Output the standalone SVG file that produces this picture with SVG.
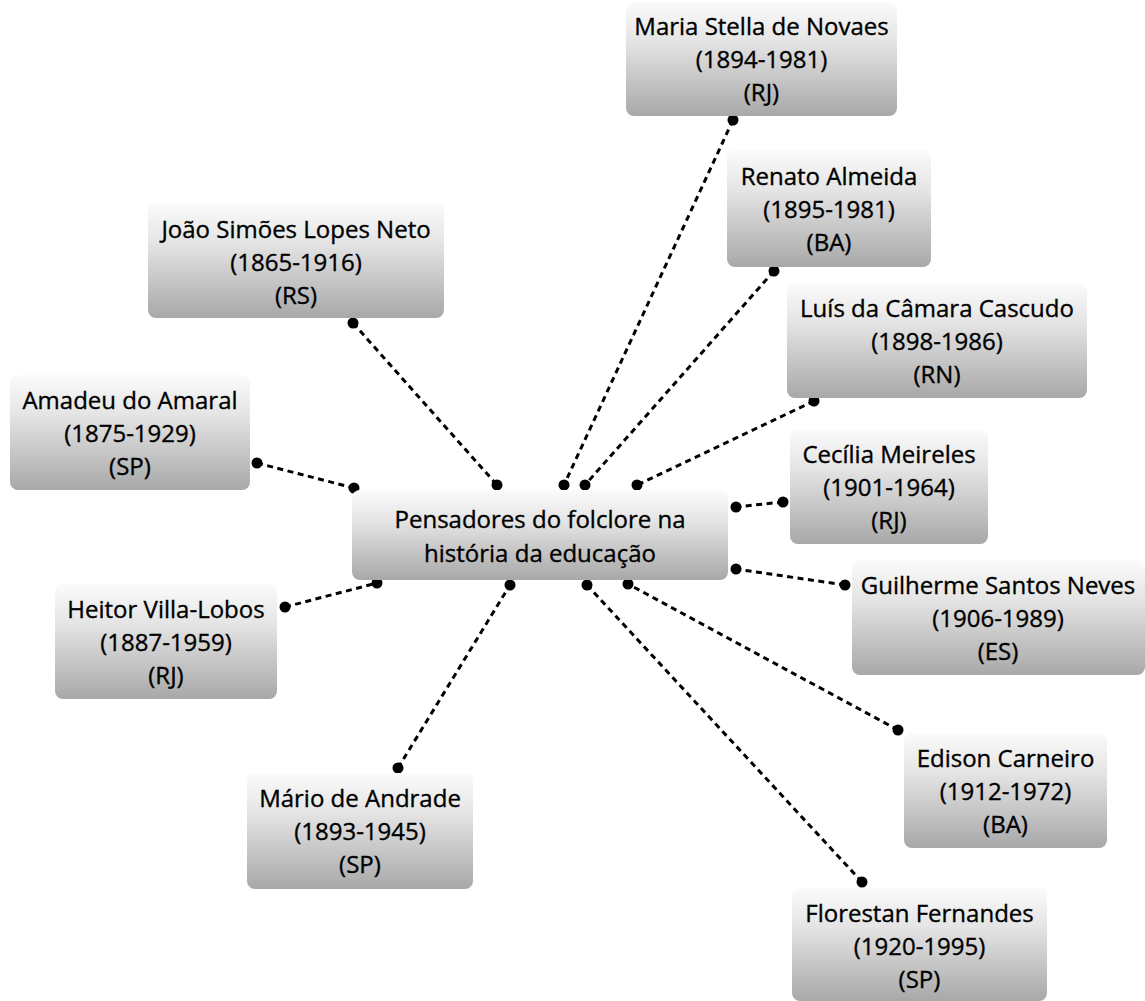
<svg xmlns="http://www.w3.org/2000/svg" width="1145" height="1001" viewBox="0 0 1145 1001">
<defs>
<linearGradient id="g" x1="0" y1="0" x2="0" y2="1">
<stop offset="0" stop-color="#fbfbfb"/>
<stop offset="0.35" stop-color="#e4e4e4"/>
<stop offset="1" stop-color="#a8a8a8"/>
</linearGradient>
<style>
.box{fill:url(#g);}
.t{font-family:"Open Sans","Noto Sans",sans-serif;font-size:24px;fill:#000;stroke:#000;stroke-width:0.35;text-anchor:middle;}
.c line{stroke:#000;stroke-width:3;stroke-dasharray:6 4.5;fill:none;}
.c circle{fill:#000;}
</style>
</defs>
<rect width="1145" height="1001" fill="#fff"/>
<g id="connectors" class="c">
<line x1="353" y1="323" x2="497" y2="485"/>
<line x1="733" y1="120" x2="564" y2="485"/>
<line x1="774" y1="271" x2="585" y2="485"/>
<line x1="814" y1="401" x2="637" y2="485"/>
<line x1="257" y1="463" x2="354" y2="488"/>
<line x1="783" y1="502" x2="736" y2="507"/>
<line x1="845" y1="585" x2="736" y2="569"/>
<line x1="285" y1="607" x2="377" y2="583"/>
<line x1="398" y1="768" x2="510" y2="585"/>
<line x1="862" y1="882" x2="587" y2="585"/>
<line x1="898" y1="730" x2="628" y2="584"/>
<circle cx="353" cy="323" r="5.5"/><circle cx="497" cy="485" r="5.5"/>
<circle cx="733" cy="120" r="5.5"/><circle cx="564" cy="485" r="5.5"/>
<circle cx="774" cy="271" r="5.5"/><circle cx="585" cy="485" r="5.5"/>
<circle cx="814" cy="401" r="5.5"/><circle cx="637" cy="485" r="5.5"/>
<circle cx="257" cy="463" r="5.5"/><circle cx="354" cy="488" r="5.5"/>
<circle cx="783" cy="502" r="5.5"/><circle cx="736" cy="507" r="5.5"/>
<circle cx="845" cy="585" r="5.5"/><circle cx="736" cy="569" r="5.5"/>
<circle cx="285" cy="607" r="5.5"/><circle cx="377" cy="583" r="5.5"/>
<circle cx="398" cy="768" r="5.5"/><circle cx="510" cy="585" r="5.5"/>
<circle cx="862" cy="882" r="5.5"/><circle cx="587" cy="585" r="5.5"/>
<circle cx="898" cy="730" r="5.5"/><circle cx="628" cy="584" r="5.5"/>
</g>
<g id="center">
<rect class="box" x="352" y="490" width="376" height="90" rx="8"/>
<text class="t" x="540" y="528">Pensadores do folclore na</text>
<text class="t" x="540" y="562">história da educação</text>
</g>
<g id="maria">
<rect class="box" x="626" y="2" width="271" height="114" rx="8"/>
<text class="t" x="761.5" y="35">Maria Stella de Novaes</text>
<text class="t" x="761.5" y="68">(1894-1981)</text>
<text class="t" x="761.5" y="101">(RJ)</text>
</g>
<g id="renato">
<rect class="box" x="727" y="150" width="204" height="117" rx="8"/>
<text class="t" x="829" y="185">Renato Almeida</text>
<text class="t" x="829" y="218">(1895-1981)</text>
<text class="t" x="829" y="251">(BA)</text>
</g>
<g id="joao">
<rect class="box" x="148" y="203" width="296" height="115" rx="8"/>
<text class="t" x="296" y="238">João Simões Lopes Neto</text>
<text class="t" x="296" y="271">(1865-1916)</text>
<text class="t" x="296" y="304">(RS)</text>
</g>
<g id="luis">
<rect class="box" x="787" y="283" width="300" height="115" rx="8"/>
<text class="t" x="937" y="317">Luís da Câmara Cascudo</text>
<text class="t" x="937" y="350">(1898-1986)</text>
<text class="t" x="937" y="383">(RN)</text>
</g>
<g id="amadeu">
<rect class="box" x="10" y="375" width="240" height="115" rx="8"/>
<text class="t" x="130" y="409">Amadeu do Amaral</text>
<text class="t" x="130" y="442">(1875-1929)</text>
<text class="t" x="130" y="475">(SP)</text>
</g>
<g id="cecilia">
<rect class="box" x="790" y="429" width="198" height="115" rx="8"/>
<text class="t" x="889" y="463">Cecília Meireles</text>
<text class="t" x="889" y="496">(1901-1964)</text>
<text class="t" x="889" y="529">(RJ)</text>
</g>
<g id="guilherme">
<rect class="box" x="852" y="560" width="293" height="115" rx="8"/>
<text class="t" x="998" y="594">Guilherme Santos Neves</text>
<text class="t" x="998" y="627">(1906-1989)</text>
<text class="t" x="998" y="660">(ES)</text>
</g>
<g id="heitor">
<rect class="box" x="55" y="584" width="222" height="115" rx="8"/>
<text class="t" x="166" y="618">Heitor Villa-Lobos</text>
<text class="t" x="166" y="651">(1887-1959)</text>
<text class="t" x="166" y="684">(RJ)</text>
</g>
<g id="edison">
<rect class="box" x="904" y="733" width="203" height="115" rx="8"/>
<text class="t" x="1005.5" y="767">Edison Carneiro</text>
<text class="t" x="1005.5" y="800">(1912-1972)</text>
<text class="t" x="1005.5" y="833">(BA)</text>
</g>
<g id="mario">
<rect class="box" x="247" y="773" width="226" height="116" rx="8"/>
<text class="t" x="360" y="807">Mário de Andrade</text>
<text class="t" x="360" y="840">(1893-1945)</text>
<text class="t" x="360" y="873">(SP)</text>
</g>
<g id="florestan">
<rect class="box" x="792" y="888" width="255" height="113" rx="8"/>
<text class="t" x="919.5" y="922">Florestan Fernandes</text>
<text class="t" x="919.5" y="955">(1920-1995)</text>
<text class="t" x="919.5" y="988">(SP)</text>
</g>
</svg>
